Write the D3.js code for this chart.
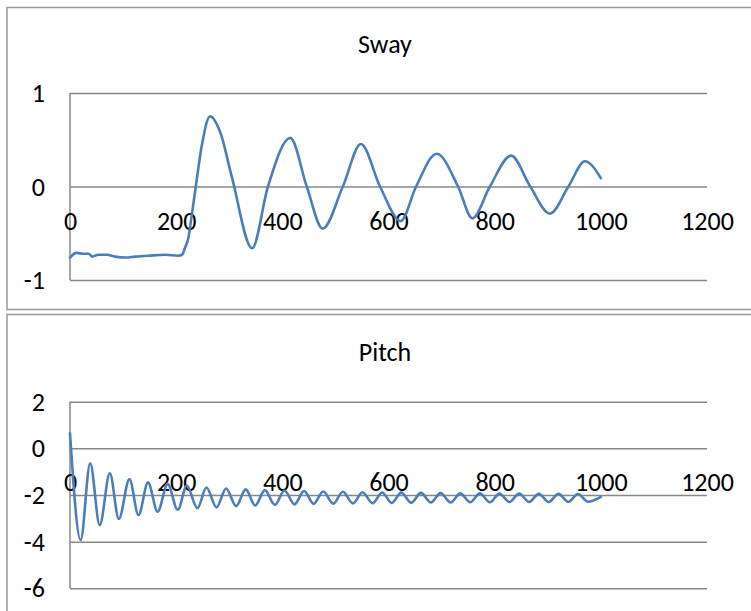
<!DOCTYPE html>
<html>
<head>
<meta charset="utf-8">
<script src="https://cdn.jsdelivr.net/npm/d3@7"></script>
<style>
  body { margin: 0; background: #fff; }
  text { font-family: Carlito, Calibri, Lato, sans-serif; fill: #000; }
</style>
</head>
<body>
<div id="plot"></div>
<script>
// Data
var xTicks = [0, 200, 400, 600, 800, 1000, 1200];
var swayTicks = [-1, 0, 1];
var pitchTicks = [-6, -4, -2, 0, 2];

var swayX = [0, 12, 25, 35, 42, 53, 69, 85, 104, 123, 148, 179, 204, 211, 217, 223, 229, 237, 248, 264, 283, 305, 343, 373, 415, 446, 476, 514, 548, 584, 623, 652, 691, 731, 758, 791, 831, 867, 904, 939, 970, 1000];
var swayY = [-0.76, -0.71, -0.72, -0.72, -0.75, -0.73, -0.73, -0.75, -0.76, -0.75, -0.74, -0.73, -0.74, -0.73, -0.65, -0.55, -0.32, 0, 0.43, 0.75, 0.58, 0.10, -0.66, 0, 0.52, 0, -0.45, 0, 0.455, 0, -0.37, 0, 0.35, 0, -0.34, 0, 0.33, 0, -0.29, 0, 0.27, 0.09];

var pitchX = [0, 20, 38, 56, 75, 92, 112, 129, 147, 165, 184, 203, 220, 240, 257, 276, 294, 313, 331, 349, 367, 386, 404, 423, 441, 459, 477, 496, 514, 533, 551, 570, 588, 606, 624, 643, 661, 680, 698, 717, 735, 754, 772, 791, 809, 828, 846, 865, 883, 902, 920, 939, 957, 976, 1000];
var pitchY = [0.64, -3.93, -0.64, -3.29, -1.07, -3.03, -1.32, -2.86, -1.46, -2.72, -1.53, -2.64, -1.60, -2.57, -1.68, -2.53, -1.72, -2.48, -1.76, -2.45, -1.79, -2.42, -1.81, -2.40, -1.83, -2.38, -1.85, -2.37, -1.86, -2.36, -1.88, -2.35, -1.89, -2.34, -1.90, -2.33, -1.91, -2.32, -1.92, -2.32, -1.93, -2.31, -1.93, -2.31, -1.94, -2.30, -1.94, -2.30, -1.95, -2.30, -1.95, -2.29, -1.96, -2.29, -2.08];

// Layout
var width = 751;
var height = 611;
var lineColour = "#4a7ebb";
var gridColour = "#878787";
var fontSize = "26px";

var svgContainer = d3
    .select("#plot")
    .append("svg")
    .attr("width", width)
    .attr("height", height);

var x = d3.scaleLinear().domain([0, 1200]).range([70, 707]);

// plain numbers, ascii minus, no thousands separator
function plain(d) {
    return String(d);
}

function drawChart(top, title, xs, ys, yTicks, yRange, titleY) {
    var g = svgContainer.append("g");

    // chart frame
    g.append("rect")
        .attr("x", 7)
        .attr("y", top)
        .attr("width", 756)
        .attr("height", 302)
        .attr("fill", "#fff")
        .attr("stroke", "#999")
        .attr("stroke-width", 1.5);

    var y = d3.scaleLinear()
        .domain(d3.extent(yTicks))
        .range(yRange);

    // gridlines + y labels
    var yAxis = g.append("g")
        .attr("transform", "translate(70,0)")
        .call(d3.axisLeft(y)
            .tickValues(yTicks)
            .tickSize(-(707 - 70))
            .tickPadding(25)
            .tickFormat(plain));
    yAxis.select(".domain").remove();
    yAxis.selectAll("line")
        .attr("stroke", gridColour)
        .attr("stroke-width", 1.5);
    yAxis.selectAll("text")
        .style("font-size", fontSize)
        .attr("dy", "0.33em");

    // vertical axis line
    g.append("line")
        .attr("x1", x(0)).attr("x2", x(0))
        .attr("y1", yRange[1]).attr("y2", yRange[0])
        .attr("stroke", gridColour)
        .attr("stroke-width", 1.5);

    // x labels sit below the zero line
    var xAxis = g.append("g")
        .attr("transform", "translate(0," + y(0) + ")")
        .call(d3.axisBottom(x).tickValues(xTicks).tickSize(0).tickFormat(plain));
    xAxis.select(".domain").remove();
    xAxis.selectAll("text")
        .style("font-size", fontSize)
        .attr("y", 34.5)
        .attr("dy", "0.33em");

    // the series
    var points = xs.map(function(d, i) { return [d, ys[i]]; });
    var line = d3.line()
        .x(function(d) { return x(d[0]); })
        .y(function(d) { return y(d[1]); })
        .curve(d3.curveMonotoneX);

    g.append("path")
        .datum(points)
        .attr("d", line)
        .attr("fill", "none")
        .attr("stroke", lineColour)
        .attr("stroke-width", 2.6)
        .attr("stroke-linejoin", "round")
        .attr("stroke-linecap", "round");

    g.append("text")
        .attr("x", 385)
        .attr("y", titleY)
        .attr("text-anchor", "middle")
        .style("font-size", fontSize)
        .text(title);
}

drawChart(7.5, "Sway", swayX, swayY, swayTicks, [280, 93], 53);
drawChart(314.5, "Pitch", pitchX, pitchY, pitchTicks, [588.3, 401.7], 361);
</script>
</body>
</html>
